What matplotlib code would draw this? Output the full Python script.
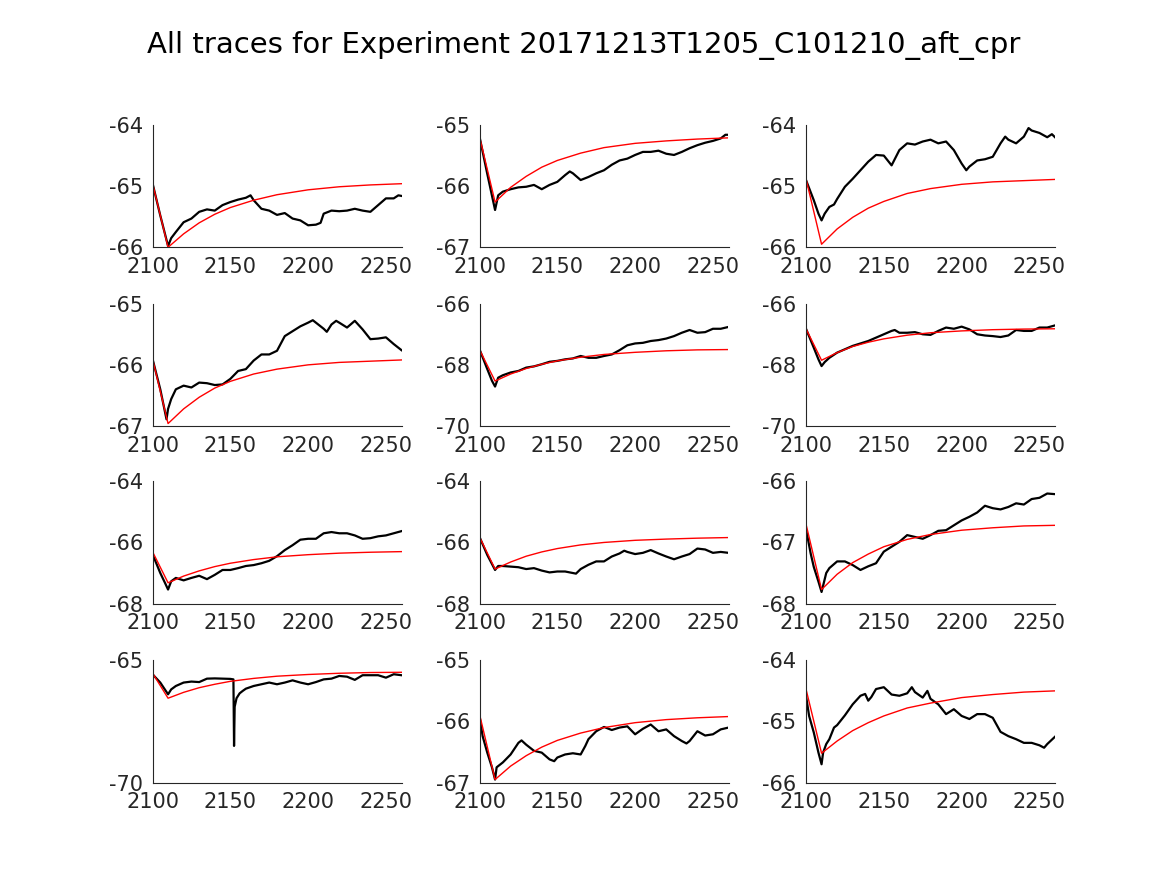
import matplotlib
matplotlib.use("Agg")
import matplotlib.pyplot as plt

plt.rcParams['font.family'] = ['DejaVu Sans']
plt.rcParams['axes.unicode_minus'] = False

TITLE = "All traces for Experiment 20171213T1205_C101210_aft_cpr"
XTICKS = [2100, 2150, 2200, 2250]
XLIM = (2100, 2260)

# ---- black traces (x, y) per panel ----
bx1 = [2100,2105,2110,2112,2115,2120,2125,2130,2135,2140,2145,2150,2155,2160,2163,2165,2170,2175,2180,2185,2190,2195,2200,2205,2208,2210,2215,2220,2225,2230,2235,2240,2245,2250,2255,2258,2260]
by1 = [-64.95,-65.48,-65.98,-65.85,-65.75,-65.59,-65.53,-65.42,-65.38,-65.40,-65.31,-65.26,-65.22,-65.19,-65.15,-65.23,-65.37,-65.40,-65.47,-65.44,-65.53,-65.56,-65.64,-65.63,-65.60,-65.45,-65.40,-65.41,-65.40,-65.37,-65.40,-65.42,-65.31,-65.20,-65.20,-65.15,-65.16]

bx2 = [2100,2105,2110,2112,2115,2120,2125,2130,2135,2140,2145,2150,2155,2158,2160,2165,2170,2175,2180,2185,2190,2195,2200,2205,2210,2215,2220,2225,2230,2235,2240,2245,2250,2255,2258,2260]
by2 = [-65.19,-65.80,-66.39,-66.15,-66.09,-66.05,-66.02,-66.01,-65.98,-66.05,-65.98,-65.93,-65.82,-65.76,-65.79,-65.90,-65.85,-65.79,-65.74,-65.65,-65.58,-65.55,-65.49,-65.44,-65.44,-65.42,-65.47,-65.49,-65.44,-65.38,-65.33,-65.29,-65.26,-65.22,-65.16,-65.16]

bx3 = [2100,2105,2108,2110,2112,2115,2118,2120,2125,2130,2135,2140,2145,2150,2155,2160,2165,2170,2175,2180,2185,2190,2195,2200,2203,2205,2210,2215,2220,2225,2228,2230,2235,2240,2243,2245,2250,2255,2258,2260]
by3 = [-64.90,-65.23,-65.45,-65.56,-65.45,-65.34,-65.30,-65.21,-65.01,-64.88,-64.74,-64.60,-64.49,-64.50,-64.66,-64.41,-64.30,-64.32,-64.27,-64.24,-64.30,-64.27,-64.41,-64.63,-64.74,-64.68,-64.58,-64.56,-64.52,-64.30,-64.19,-64.24,-64.30,-64.19,-64.05,-64.09,-64.13,-64.20,-64.15,-64.20]

bx4 = [2100,2105,2109,2110,2112,2115,2120,2125,2130,2135,2140,2145,2150,2155,2160,2165,2170,2175,2180,2185,2190,2195,2200,2203,2205,2210,2212,2215,2218,2220,2225,2230,2235,2240,2245,2250,2255,2260]
by4 = [-65.90,-66.40,-66.89,-66.72,-66.56,-66.40,-66.34,-66.37,-66.29,-66.30,-66.33,-66.32,-66.23,-66.10,-66.07,-65.93,-65.83,-65.83,-65.77,-65.53,-65.45,-65.37,-65.31,-65.27,-65.31,-65.41,-65.46,-65.34,-65.28,-65.31,-65.39,-65.28,-65.42,-65.58,-65.57,-65.55,-65.66,-65.76]

bx5 = [2100,2105,2108,2110,2112,2115,2120,2125,2130,2135,2140,2145,2150,2155,2160,2165,2170,2175,2180,2185,2190,2195,2200,2205,2210,2215,2220,2225,2230,2235,2240,2245,2250,2255,2260]
by5 = [-67.49,-68.14,-68.52,-68.71,-68.42,-68.34,-68.25,-68.20,-68.09,-68.05,-67.98,-67.90,-67.87,-67.82,-67.79,-67.71,-67.77,-67.77,-67.71,-67.66,-67.52,-67.36,-67.30,-67.28,-67.22,-67.19,-67.14,-67.06,-66.95,-66.86,-66.95,-66.93,-66.82,-66.82,-66.76]

bx6 = [2100,2105,2108,2110,2112,2115,2120,2125,2130,2135,2140,2145,2150,2155,2157,2160,2165,2170,2175,2180,2185,2190,2195,2200,2205,2210,2215,2220,2225,2230,2235,2240,2245,2250,2255,2260]
by6 = [-66.82,-67.44,-67.82,-68.04,-67.91,-67.77,-67.60,-67.49,-67.38,-67.30,-67.22,-67.11,-67.00,-66.89,-66.86,-66.95,-66.95,-66.93,-67.00,-67.02,-66.89,-66.78,-66.82,-66.75,-66.84,-67.00,-67.04,-67.06,-67.09,-67.04,-66.86,-66.89,-66.89,-66.78,-66.78,-66.71]

bx7 = [2100,2105,2108,2110,2112,2115,2120,2125,2130,2135,2140,2145,2150,2155,2160,2165,2170,2175,2180,2185,2190,2195,2200,2205,2210,2215,2220,2225,2230,2235,2240,2245,2250,2255,2260]
by7 = [-66.38,-67.00,-67.32,-67.54,-67.27,-67.16,-67.24,-67.16,-67.09,-67.20,-67.06,-66.90,-66.90,-66.84,-66.77,-66.74,-66.68,-66.60,-66.45,-66.25,-66.09,-65.91,-65.88,-65.88,-65.70,-65.66,-65.70,-65.70,-65.77,-65.88,-65.86,-65.80,-65.77,-65.70,-65.63]

bx8 = [2100,2105,2110,2112,2115,2120,2125,2130,2135,2140,2145,2150,2155,2160,2162,2165,2170,2175,2180,2185,2190,2193,2195,2200,2205,2210,2215,2220,2225,2230,2235,2240,2245,2250,2255,2260]
by8 = [-65.82,-66.41,-66.90,-66.77,-66.77,-66.79,-66.81,-66.87,-66.84,-66.92,-66.98,-66.95,-66.95,-67.00,-67.02,-66.87,-66.73,-66.62,-66.62,-66.46,-66.36,-66.27,-66.31,-66.38,-66.34,-66.25,-66.36,-66.46,-66.55,-66.46,-66.38,-66.20,-66.23,-66.34,-66.31,-66.34]

bx9 = [2100,2103,2105,2108,2110,2113,2115,2120,2125,2130,2135,2140,2145,2150,2155,2160,2165,2170,2175,2180,2185,2190,2195,2200,2205,2210,2215,2220,2225,2230,2235,2240,2245,2250,2255,2260]
by9 = [-66.78,-67.18,-67.40,-67.64,-67.81,-67.50,-67.42,-67.31,-67.31,-67.37,-67.45,-67.39,-67.34,-67.15,-67.07,-66.99,-66.88,-66.91,-66.94,-66.88,-66.81,-66.80,-66.72,-66.64,-66.58,-66.51,-66.40,-66.44,-66.46,-66.42,-66.36,-66.38,-66.29,-66.27,-66.20,-66.21]

bx10 = [2100,2105,2110,2112,2115,2120,2125,2130,2135,2140,2145,2150,2152,2152.4,2152.8,2154,2156,2158,2160,2165,2170,2175,2180,2185,2190,2195,2200,2205,2210,2215,2220,2225,2230,2235,2240,2245,2250,2255,2260]
by10 = [-65.57,-65.91,-66.39,-66.19,-66.05,-65.91,-65.87,-65.89,-65.75,-65.74,-65.75,-65.76,-65.78,-68.50,-66.90,-66.55,-66.35,-66.25,-66.16,-66.05,-65.98,-65.91,-65.98,-65.91,-65.82,-65.91,-65.98,-65.89,-65.78,-65.75,-65.64,-65.67,-65.80,-65.61,-65.61,-65.61,-65.71,-65.57,-65.61]

bx11 = [2100,2102,2105,2108,2110,2111,2115,2120,2125,2127,2130,2135,2140,2145,2148,2150,2155,2160,2165,2168,2170,2175,2180,2185,2190,2195,2200,2205,2210,2215,2220,2225,2230,2233,2235,2240,2245,2250,2255,2260]
by11 = [-65.91,-66.24,-66.51,-66.75,-66.95,-66.75,-66.67,-66.54,-66.35,-66.31,-66.38,-66.48,-66.51,-66.62,-66.65,-66.59,-66.54,-66.52,-66.54,-66.40,-66.29,-66.16,-66.09,-66.14,-66.10,-66.08,-66.21,-66.12,-66.05,-66.16,-66.13,-66.24,-66.32,-66.36,-66.32,-66.16,-66.23,-66.21,-66.13,-66.10]

bx12 = [2100,2102,2105,2108,2110,2111,2113,2115,2118,2120,2125,2130,2135,2138,2140,2142,2145,2150,2155,2160,2165,2168,2170,2175,2178,2180,2185,2190,2195,2200,2205,2210,2215,2220,2225,2230,2235,2240,2245,2250,2253,2255,2260]
by12 = [-64.58,-64.91,-65.18,-65.51,-65.70,-65.51,-65.37,-65.29,-65.10,-65.06,-64.90,-64.72,-64.58,-64.55,-64.66,-64.60,-64.47,-64.44,-64.56,-64.58,-64.54,-64.44,-64.52,-64.61,-64.50,-64.63,-64.72,-64.88,-64.80,-64.91,-64.96,-64.88,-64.88,-64.94,-65.17,-65.24,-65.29,-65.35,-65.35,-65.39,-65.43,-65.37,-65.25]

# ---- red fit curves, sampled at RX ----
RX = [2100, 2110, 2120, 2130, 2140, 2150, 2165, 2180, 2200, 2220, 2240, 2260]
r1 = [-64.95,-66.00,-65.78,-65.60,-65.46,-65.35,-65.23,-65.14,-65.06,-65.01,-64.98,-64.96]
r2 = [-65.19,-66.26,-66.02,-65.84,-65.69,-65.58,-65.46,-65.37,-65.30,-65.26,-65.23,-65.21]
r3 = [-64.88,-65.95,-65.70,-65.51,-65.36,-65.25,-65.12,-65.04,-64.97,-64.93,-64.91,-64.89]
r4 = [-65.90,-66.96,-66.72,-66.53,-66.38,-66.27,-66.15,-66.07,-66.00,-65.96,-65.94,-65.92]
r5 = [-67.50,-68.53,-68.30,-68.12,-67.98,-67.87,-67.75,-67.66,-67.59,-67.54,-67.51,-67.50]
r6 = [-66.82,-67.85,-67.60,-67.40,-67.26,-67.15,-67.03,-66.95,-66.89,-66.85,-66.83,-66.82]
r7 = [-66.30,-67.32,-67.10,-66.93,-66.79,-66.68,-66.56,-66.47,-66.40,-66.35,-66.32,-66.30]
r8 = [-65.82,-66.87,-66.64,-66.45,-66.31,-66.20,-66.08,-66.00,-65.93,-65.89,-65.86,-65.84]
r9 = [-66.70,-67.77,-67.52,-67.33,-67.19,-67.07,-66.95,-66.87,-66.80,-66.76,-66.73,-66.72]
r10 = [-65.52,-66.55,-66.31,-66.12,-65.98,-65.86,-65.74,-65.65,-65.58,-65.53,-65.50,-65.49]
r11 = [-65.88,-66.95,-66.73,-66.56,-66.42,-66.31,-66.19,-66.10,-66.02,-65.97,-65.94,-65.92]
r12 = [-64.47,-65.52,-65.32,-65.15,-65.02,-64.91,-64.78,-64.70,-64.61,-64.56,-64.52,-64.50]

# ---- y axis limits / ticks ----
ylims = [(-66, -64), (-67, -65), (-66, -64), (-67, -65), (-70, -66), (-70, -66),
         (-68, -64), (-68, -64), (-68, -66), (-70, -65), (-67, -65), (-66, -64)]
yticks = [[-66, -65, -64], [-67, -66, -65], [-66, -65, -64], [-67, -66, -65],
          [-70, -68, -66], [-70, -68, -66], [-68, -66, -64], [-68, -66, -64],
          [-68, -67, -66], [-70, -65], [-67, -66, -65], [-66, -65, -64]]

blacks = [(bx1, by1), (bx2, by2), (bx3, by3), (bx4, by4), (bx5, by5), (bx6, by6),
          (bx7, by7), (bx8, by8), (bx9, by9), (bx10, by10), (bx11, by11), (bx12, by12)]
reds = [r1, r2, r3, r4, r5, r6, r7, r8, r9, r10, r11, r12]

W, H = 1167, 875
fig = plt.figure(figsize=(W / 100, H / 100), dpi=100)
TXT = '#262626'

lefts = [152.5, 479.5, 806.0]
tops = [125.0, 303.7, 481.3, 660.3]
aw, ah = 249.0, 122.3

for i in range(12):
    r, c = divmod(i, 3)
    ax = fig.add_axes([lefts[c] / W, 1 - (tops[r] + ah) / H, aw / W, ah / H])
    bx, by = blacks[i]
    ax.plot(bx, by, color='black', lw=1.6, solid_joinstyle='round')
    ax.plot(RX, reds[i], color='red', lw=1.0)
    ax.set_xlim(*XLIM)
    ax.set_ylim(*ylims[i])
    ax.set_xticks(XTICKS)
    ax.set_yticks(yticks[i])
    ax.set_yticklabels([str(v) for v in yticks[i]])
    for s in ('top', 'right'):
        ax.spines[s].set_visible(False)
    for s in ('left', 'bottom'):
        ax.spines[s].set_color(TXT)
        ax.spines[s].set_linewidth(0.8)
    ax.tick_params(length=0, labelsize=15, colors=TXT)
    ax.tick_params(axis='x', pad=7)
    ax.tick_params(axis='y', pad=7)

fig.text(0.5, 1 - 46 / H, TITLE, ha='center', va='center', fontsize=21, color='black')

fig.savefig('out.png', dpi=100)
